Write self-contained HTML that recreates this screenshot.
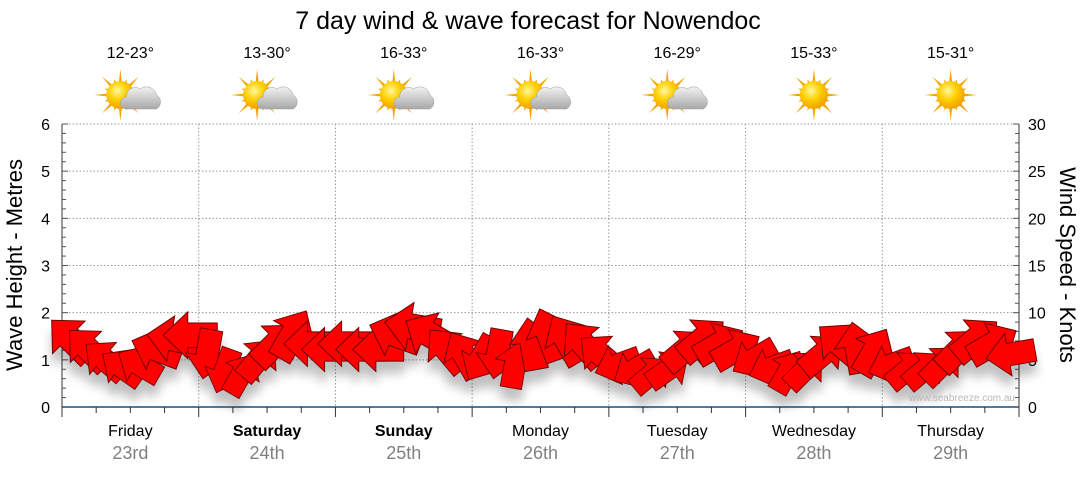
<!DOCTYPE html>
<html><head><meta charset="utf-8"><style>
html,body{margin:0;padding:0;background:#fff;}
svg text{font-family:"Liberation Sans",sans-serif;}
</style></head><body>
<svg id="c" width="1080" height="475" viewBox="0 0 1080 475" xmlns="http://www.w3.org/2000/svg">
<defs>
<filter id="sh" x="-50%" y="-50%" width="200%" height="250%"><feGaussianBlur in="SourceAlpha" stdDeviation="5"/><feOffset dx="0" dy="12"/><feComponentTransfer><feFuncA type="linear" slope="0.25"/></feComponentTransfer><feMerge><feMergeNode/><feMergeNode in="SourceGraphic"/></feMerge></filter>
<radialGradient id="sun" cx="40%" cy="35%" r="65%"><stop offset="0" stop-color="#fff7a0"/><stop offset="0.5" stop-color="#ffd000"/><stop offset="1" stop-color="#f0a000"/></radialGradient>
<linearGradient id="cloud" x1="0" y1="0" x2="0" y2="1"><stop offset="0" stop-color="#f2f2f2"/><stop offset="1" stop-color="#a8a8a8"/></linearGradient>
</defs>
<text x="528" y="29" font-size="25" text-anchor="middle" fill="#000">7 day wind &amp; wave forecast for Nowendoc</text>
<g id="grid"></g><g id="axes"></g><g id="icons"></g><g id="arrows" filter="url(#sh)"></g>
<text x="1015" y="401" font-size="10" text-anchor="end" fill="#b8b8b8">www.seabreeze.com.au</text>
</svg>
<script>
const days=["Friday","Saturday","Sunday","Monday","Tuesday","Wednesday","Thursday"];
const dates=["23rd","24th","25th","26th","27th","28th","29th"];
const boldDays=[false,true,true,false,false,false,false];
const temps=["12-23°","13-30°","16-33°","16-33°","16-29°","15-33°","15-31°"];
const cloudy=[true,true,true,true,true,false,false];
const waveTicks=[0,1,2,3,4,5,6];
const windTicks=[0,5,10,15,20,25,30];
const windSpeed=[7.2,6.2,5.0,4.2,4.5,6.1,7.2,7.6,
 5.6,3.8,3.5,5.1,6.7,7.7,6.7,6.1,
 6.7,6.1,6.1,7.7,8.5,7.7,6.1,5.6,
 5.1,5.6,4.5,6.7,7.7,7.2,6.7,5.6,
 4.5,4.0,3.5,4.0,6.1,7.2,6.7,6.1,
 5.1,4.2,3.8,4.0,5.6,6.7,6.3,5.9,
 4.5,4.0,4.0,4.5,6.1,7.2,6.7,5.6];
const windDir=[-135,-135,-140,-145,-150,-160,-170,180,
 100,110,-60,-50,-45,-60,180,180,
 180,180,180,-160,-170,-150,-130,-120,
 120,100,-80,-100,-110,-120,-130,-140,
 160,150,-40,-35,-40,-40,-30,-30,
 150,160,-60,-45,-40,-140,-100,-60,
 160,-40,-40,-45,-45,-40,-30,170];
const NS="http://www.w3.org/2000/svg";
const X0=62,X1=1019,Y0=407,Y6=124,DW=(X1-X0)/7;
const yW=v=>Y0-(Y0-Y6)*v/6, yK=k=>Y0-(Y0-Y6)*k/30, xT=t=>X0+DW*t;
function mk(tag,at,parent,txt){const e=document.createElementNS(NS,tag);for(const k in at)e.setAttribute(k,at[k]);if(txt!==undefined)e.textContent=txt;parent.appendChild(e);return e;}
const G=document.getElementById('grid'),A=document.getElementById('axes'),I=document.getElementById('icons'),R=document.getElementById('arrows');
waveTicks.forEach(v=>{if(v>0){const l=mk('line',{x1:X0,x2:X1,y1:yW(v),y2:yW(v),stroke:'#999','stroke-dasharray':'1.5,2'},G);}
 const t=mk('text',{x:50,y:yW(v)+6,'font-size':16,'text-anchor':'end',fill:'#000'},A,String(v));});
windTicks.forEach(k=>{const t=mk('text',{x:1028,y:yK(k)+6,'font-size':16,fill:'#000'},A,String(k));});
for(let i=1;i<7;i++){const l=mk('line',{x1:xT(i),x2:xT(i),y1:Y6,y2:Y0,stroke:'#999','stroke-dasharray':'1.5,2'},G);}
mk('line',{x1:X0,x2:X0,y1:Y6,y2:Y0,stroke:'#333'},A);
mk('line',{x1:X1,x2:X1,y1:Y6,y2:Y0,stroke:'#333'},A);
for(let i=0;i<=30;i++){const y=Y0-(Y0-Y6)*i/30;mk('line',{x1:X0,x2:X0+(i%5==0?6:4),y1:y,y2:y,stroke:'#555'},A);mk('line',{x1:X1,x2:X1-(i%5==0?6:4),y1:y,y2:y,stroke:'#555'},A);}
mk('line',{x1:X0,x2:X1,y1:Y0,y2:Y0,stroke:'#1b4f7a','stroke-width':1.5},A);
for(let i=0;i<=28;i++){const x=X0+DW*i/4;mk('line',{x1:x,x2:x,y1:Y0,y2:Y0+(i%4==0?10:6),stroke:'#333'},A);}
const lt=mk('text',{x:0,y:0,'font-size':22,'text-anchor':'middle',transform:'translate(22,265) rotate(-90)'},A,'Wave Height - Metres');
const rt=mk('text',{x:0,y:0,'font-size':22,'text-anchor':'middle',transform:'translate(1060,265) rotate(90)'},A,'Wind Speed - Knots');
days.forEach((d,i)=>{const cx=xT(i+0.5);
 const a=mk('text',{x:cx,y:436,'font-size':16,'text-anchor':'middle','font-weight':boldDays[i]?'bold':'normal',fill:'#000'},A,d);
 const b=mk('text',{x:cx,y:459,'font-size':18,'text-anchor':'middle',fill:'#808080'},A,dates[i]);
 const c=mk('text',{x:cx,y:58,'font-size':16,'text-anchor':'middle',fill:'#000'},I,temps[i]);
 const g=mk('g',{transform:`translate(${cx-6},95)`},I);
 const sx=cloudy[i]?-4:6;
 for(let r=0;r<16;r++){const ang=r*Math.PI/8,L=r%2?17:26;mk('polygon',{points:`${sx+Math.cos(ang-0.13)*12},${Math.sin(ang-0.13)*12} ${sx+Math.cos(ang)*L},${Math.sin(ang)*L} ${sx+Math.cos(ang+0.13)*12},${Math.sin(ang+0.13)*12}`,fill:'#f2a400'},g);}
 mk('circle',{cx:sx,cy:0,r:14,fill:'url(#sun)'},g);
 if(cloudy[i]){mk('path',{d:'M2,14 h30 a8,8 0 0 0 0,-14 a10,10 0 0 0 -16,-6 a9,9 0 0 0 -14,8 a6,6 0 0 0 0,12z',fill:'url(#cloud)',stroke:'#999','stroke-width':0.5},g);}
});
const n=windSpeed.length;
windSpeed.forEach((k,i)=>{const x=X0+DW*7*(i+0.5)/n,y=yK(k);const s=0.85+k/20;
 const p=mk('polygon',{points:'-22,-10 2,-10 2,-19 22,0 2,19 2,10 -22,10',fill:'#ff0000',stroke:'#6a0000','stroke-width':0.8,transform:`translate(${x.toFixed(1)},${y.toFixed(1)}) rotate(${windDir[i]}) scale(${s.toFixed(2)})`},R);
 });
</script>
</body></html>
